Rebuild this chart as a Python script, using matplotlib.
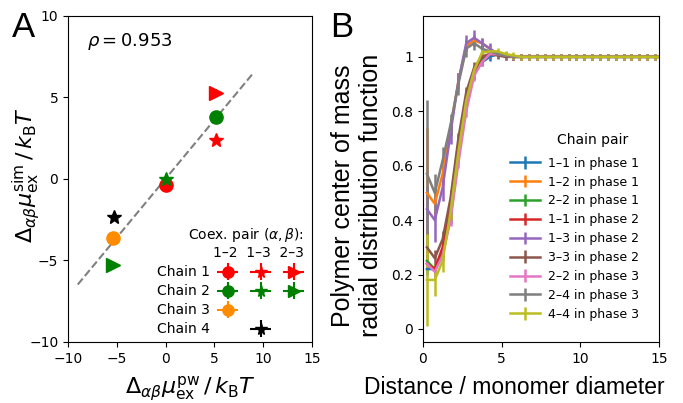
import numpy as np
import matplotlib.pyplot as plt
from matplotlib.lines import Line2D
from matplotlib.ticker import FuncFormatter
from matplotlib.container import ErrorbarContainer
from matplotlib.legend_handler import HandlerErrorbar

# ---- panel A: excess chemical potential differences ----
pair_names = ["1–2", "1–3", "2–3"]
pair_markers = ["o", "*", ">"]

chain1_pairs = [0, 1, 2]
chain1_pw = [0.0, 5.2, 5.2]
chain1_sim = [-0.37, 2.4, 5.3]

chain2_pairs = [0, 1, 2]
chain2_pw = [5.2, 0.0, -5.36]
chain2_sim = [3.8, 0.0, -5.3]

chain3_pairs = [0]
chain3_pw = [-5.36]
chain3_sim = [-3.6]

chain4_pairs = [1]
chain4_pw = [-5.25]
chain4_sim = [-2.35]

err_pw = 0.2
err_sim = 0.2
rho = 0.953

# ---- panel B: radial distribution functions ----
r = [0.25, 0.75, 1.25, 1.75, 2.25, 2.75, 3.25, 3.75, 4.25, 4.75, 5.25, 5.75,
     6.25, 6.75, 7.25, 7.75, 8.25, 8.75, 9.25, 9.75, 10.25, 10.75, 11.25,
     11.75, 12.25, 12.75, 13.25, 13.75, 14.25, 14.75, 15.25]
plateau = [1.0] * 19
plateau_err = [0.012] * 19

g_11_p1 = [0.22, 0.22, 0.28, 0.41, 0.63, 0.82, 0.94, 0.98, 1.00, 1.01, 1.005, 1.0] + plateau
g_12_p1 = [0.50, 0.46, 0.57, 0.74, 0.91, 1.04, 1.06, 1.05, 1.03, 1.01, 1.005, 1.0] + plateau
g_22_p1 = [0.25, 0.22, 0.28, 0.42, 0.64, 0.83, 0.94, 0.99, 1.01, 1.01, 1.005, 1.0] + plateau
g_11_p2 = [0.24, 0.22, 0.30, 0.45, 0.67, 0.85, 0.95, 1.00, 1.01, 1.01, 1.0, 1.0] + plateau
g_13_p2 = [0.44, 0.40, 0.52, 0.72, 0.91, 1.05, 1.07, 1.05, 1.03, 1.01, 1.005, 1.0] + plateau
g_33_p2 = [0.30, 0.26, 0.33, 0.48, 0.70, 0.87, 0.96, 1.00, 1.01, 1.005, 1.0, 1.0] + plateau
g_22_p3 = [0.24, 0.21, 0.27, 0.40, 0.61, 0.80, 0.93, 0.98, 1.01, 1.01, 1.005, 1.0] + plateau
g_24_p3 = [0.57, 0.50, 0.62, 0.75, 0.90, 1.03, 1.05, 1.03, 1.02, 1.01, 1.005, 1.0] + plateau
g_44_p3 = [0.18, 0.18, 0.25, 0.43, 0.65, 0.84, 0.95, 1.015, 1.02, 1.02, 1.01, 1.005] + plateau

e_11_p1 = [0.02, 0.02, 0.02, 0.02, 0.02, 0.02, 0.02, 0.015, 0.015, 0.012, 0.012, 0.012] + plateau_err
e_12_p1 = [0.24, 0.05, 0.04, 0.03, 0.03, 0.02, 0.02, 0.02, 0.015, 0.012, 0.012, 0.012] + plateau_err
e_22_p1 = [0.02, 0.02, 0.02, 0.02, 0.02, 0.02, 0.02, 0.015, 0.015, 0.012, 0.012, 0.012] + plateau_err
e_11_p2 = [0.02, 0.02, 0.02, 0.02, 0.02, 0.02, 0.02, 0.015, 0.015, 0.012, 0.012, 0.012] + plateau_err
e_13_p2 = [0.08, 0.08, 0.05, 0.04, 0.03, 0.03, 0.03, 0.02, 0.02, 0.015, 0.012, 0.012] + plateau_err
e_33_p2 = [0.06, 0.03, 0.03, 0.03, 0.02, 0.02, 0.02, 0.015, 0.015, 0.012, 0.012, 0.012] + plateau_err
e_22_p3 = [0.02, 0.02, 0.02, 0.02, 0.02, 0.02, 0.02, 0.015, 0.015, 0.012, 0.012, 0.012] + plateau_err
e_24_p3 = [0.27, 0.07, 0.05, 0.04, 0.04, 0.03, 0.025, 0.02, 0.015, 0.012, 0.012, 0.012] + plateau_err
e_44_p3 = [0.17, 0.06, 0.04, 0.03, 0.03, 0.02, 0.02, 0.015, 0.015, 0.012, 0.012, 0.012] + plateau_err

rdf_labels = ["1–1 in phase 1", "1–2 in phase 1", "2–2 in phase 1",
              "1–1 in phase 2", "1–3 in phase 2", "3–3 in phase 2",
              "2–2 in phase 3", "2–4 in phase 3", "4–4 in phase 3"]
rdf_values = [g_11_p1, g_12_p1, g_22_p1, g_11_p2, g_13_p2, g_33_p2, g_22_p3, g_24_p3, g_44_p3]
rdf_errors = [e_11_p1, e_12_p1, e_22_p1, e_11_p2, e_13_p2, e_33_p2, e_22_p3, e_24_p3, e_44_p3]

label_font = "Liberation Sans"

fig = plt.figure(figsize=(6.83, 4.03), dpi=100)
axA = fig.add_axes([0.0996, 0.1514, 0.3572, 0.8089])
axB = fig.add_axes([0.6193, 0.1514, 0.3455, 0.8089])

# ---- A ----
chains = [
    ("Chain 1", "red", chain1_pairs, chain1_pw, chain1_sim),
    ("Chain 2", "green", chain2_pairs, chain2_pw, chain2_sim),
    ("Chain 3", "darkorange", chain3_pairs, chain3_pw, chain3_sim),
    ("Chain 4", "black", chain4_pairs, chain4_pw, chain4_sim),
]
handles = {}
all_x, all_y = [], []
for ci, (name, col, pairs, xs, ys) in enumerate(chains):
    for p, xv, yv in zip(pairs, xs, ys):
        h = axA.errorbar(xv, yv, xerr=err_pw, yerr=err_sim, fmt=pair_markers[p],
                         color=col, ms=10 if p else 9.5, capsize=0, zorder=3)
        handles[(ci, p)] = h
        all_x.append(xv)
        all_y.append(yv)

slope, intercept = np.polyfit(all_x, all_y, 1)
fit_x = np.array([-9.0, 9.0])
axA.plot(fit_x, slope * fit_x + intercept, "--", color="gray", lw=1.5, zorder=2)

axA.text(0.078, 0.955, r"$\rho = %.3f$" % rho, transform=axA.transAxes,
         fontsize=13, va="top", ha="left")

axA.set_xlim(-10, 15)
axA.set_ylim(-10, 10)
axA.set_xticks([-10, -5, 0, 5, 10, 15])
axA.set_yticks([-10, -5, 0, 5, 10])
axA.tick_params(labelsize=10)
axA.set_xlabel(r"$\Delta_{\alpha\beta}\mu_{\rm ex}^{\rm pw}\,/\,k_{\rm B}T$", fontsize=16,
               labelpad=6)
axA.set_ylabel(r"$\Delta_{\alpha\beta}\mu_{\rm ex}^{\rm sim}\,/\,k_{\rm B}T$", fontsize=16)
axA.yaxis.set_label_coords(-0.105, 0.51)

blank = Line2D([], [], linestyle="none")
leg_handles, leg_labels = [], []
for p in range(3):
    for ci in range(4):
        leg_handles.append(handles.get((ci, p), blank))
        leg_labels.append(chains[ci][0] if p == 0 else " ")
legA = axA.legend(leg_handles, leg_labels, ncol=3, markerfirst=False, frameon=False,
                  fontsize=10, title="Coex. pair ($\\alpha,\\beta$):\n" + "  ".join(pair_names),
                  title_fontsize=10, alignment="right", loc="lower right",
                  bbox_to_anchor=(0.99, 0.0), borderaxespad=0, handlelength=1.5,
                  handletextpad=0.55, columnspacing=0.0, labelspacing=0.36,
                  markerscale=0.85,
                  handler_map={ErrorbarContainer: HandlerErrorbar(xerr_size=0.75, yerr_size=0.6)})
legA.get_title().set_multialignment("right")

# ---- B ----
for vals, errs, lab in zip(rdf_values, rdf_errors, rdf_labels):
    axB.errorbar(r, vals, yerr=errs, label=lab, lw=1.8, elinewidth=1.8)

axB.set_xlim(0, 15)
axB.set_ylim(-0.048, 1.15)
axB.set_xticks([0, 5, 10, 15])
axB.set_yticks([0, 0.2, 0.4, 0.6, 0.8, 1.0])
axB.yaxis.set_major_formatter(FuncFormatter(lambda v, p: f"{v:g}"))
axB.tick_params(labelsize=10)
axB.set_xlabel("Distance / monomer diameter", fontsize=16.5, family=label_font)
axB.xaxis.set_label_coords(0.386, -0.104)
axB.set_ylabel("Polymer center of mass\nradial distribution function", fontsize=18,
               family=label_font)
axB.yaxis.set_label_coords(-0.17, 0.45)
axB.legend(fontsize=9, frameon=False,
           loc="lower right", bbox_to_anchor=(0.936, 0.05), borderaxespad=0,
           labelspacing=0.47, handlelength=2.4, handletextpad=0.6)
axB.text(0.72, 0.62, "Chain pair", transform=axB.transAxes, fontsize=10,
         ha="center", va="center")

fig.text(12 / 683, 1 - 37 / 403, "A", fontsize=25, family=label_font, va="baseline")
fig.text(330 / 683, 1 - 37 / 403, "B", fontsize=25, family=label_font, va="baseline")

fig.savefig("out.png", dpi=100)
